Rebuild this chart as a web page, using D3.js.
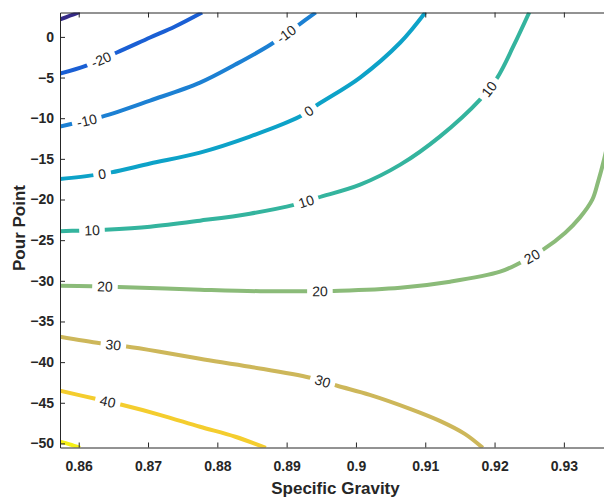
<!DOCTYPE html>
<html>
<head>
<meta charset="utf-8">
<script src="https://cdn.jsdelivr.net/npm/d3@7"></script>
<style>
  html, body { margin: 0; padding: 0; background: #fff; }
  svg { display: block; }
</style>
</head>
<body>
<svg id="chart" width="604" height="499"></svg>
<script>
// Contour levels of the fitted response over specific gravity and pour point
const levels = [-30, -20, -10, 0, 10, 20, 30, 40, 50];

// Each contour is a list of [specific gravity, pour point] points
const contourM30 = [[0.8573, 2.14], [0.8587, 2.60], [0.8601, 3.05]];
const contourM20 = [[0.8573, -4.51], [0.8611, -3.52], [0.8655, -1.92], [0.8703, -0.08],
                    [0.8739, 1.28], [0.8778, 3.00]];
const contourM10 = [[0.8573, -11.03], [0.8589, -10.72], [0.8634, -9.80], [0.8703, -7.83],
                    [0.8775, -5.62], [0.8826, -3.40], [0.8877, -0.94], [0.8918, 1.52],
                    [0.8942, 3.00]];
const contour0   = [[0.8573, -17.49], [0.8622, -17.00], [0.8647, -16.66], [0.8703, -15.58],
                    [0.8775, -14.23], [0.8847, -12.26], [0.8919, -9.80], [0.8945, -8.32],
                    [0.9006, -5.00], [0.9064, -0.69], [0.9100, 3.00]];
const contour10  = [[0.8573, -23.89], [0.8602, -23.83], [0.8638, -23.71], [0.8703, -23.34],
                    [0.8775, -22.60], [0.8847, -21.74], [0.8912, -20.63], [0.8945, -19.77],
                    [0.9006, -18.17], [0.9064, -15.71], [0.9121, -12.26], [0.9179, -7.71],
                    [0.9204, -5.00], [0.9227, -1.18], [0.9250, 3.00]];
const contour20  = [[0.8573, -30.60], [0.8619, -30.66], [0.8657, -30.76], [0.8775, -31.09],
                    [0.8862, -31.28], [0.8919, -31.28], [0.8977, -31.22], [0.9064, -30.85],
                    [0.9136, -30.11], [0.9208, -28.88], [0.9237, -27.77], [0.9270, -26.17],
                    [0.9302, -24.08], [0.9323, -22.23], [0.9341, -20.02], [0.9349, -17.92],
                    [0.9358, -15.09], [0.9366, -12.00]];
const contour30  = [[0.8573, -36.88], [0.8631, -37.68], [0.8667, -38.05], [0.8717, -38.72],
                    [0.8775, -39.58], [0.8847, -40.57], [0.8934, -41.92], [0.8973, -42.91],
                    [0.9020, -44.02], [0.9078, -45.74], [0.9121, -47.22], [0.9157, -48.82],
                    [0.9183, -50.54]];
const contour40  = [[0.8573, -43.52], [0.8624, -44.51], [0.8662, -45.25], [0.8717, -46.48],
                    [0.8775, -47.95], [0.8826, -49.18], [0.8870, -50.54]];
const contour50  = [[0.8573, -49.80], [0.8587, -50.11], [0.8602, -50.54]];

// Specific gravity at which each contour carries its inline label
const labelsM30 = [];
const labelsM20 = [0.8632];
const labelsM10 = [0.8612, 0.8899];
const labels0   = [0.8634, 0.8932];
const labels10  = [0.8619, 0.8928, 0.9192];
const labels20  = [0.8638, 0.8948, 0.9254];
const labels30  = [0.8650, 0.8952];
const labels40  = [0.8642];
const labels50  = [];

// Axis ticks
const xTicks = [0.86, 0.87, 0.88, 0.89, 0.90, 0.91, 0.92, 0.93];
const yTicks = [0, -5, -10, -15, -20, -25, -30, -35, -40, -45, -50];
const xTitle = "Specific Gravity";
const yTitle = "Pour Point";

// parula-like colour steps, one per level
const levelColors = ["#352a87", "#1a5fd4", "#1c80d3", "#0da2c8", "#34b49e",
                     "#8bbb79", "#cdb75a", "#f4cd2e", "#f5f015"];

const contours = [contourM30, contourM20, contourM10, contour0, contour10,
                  contour20, contour30, contour40, contour50];
const labelSets = [labelsM30, labelsM20, labelsM10, labels0, labels10,
                   labels20, labels30, labels40, labels50];

const W = 604, H = 499;
const plot = { left: 60, right: 611, top: 12.5, bottom: 447.5 };
const FONT = "'Liberation Sans', Arial, Helvetica, sans-serif";
const AXIS_COLOR = "#262626";

const svg = d3.select("#chart");
const defs = svg.append("defs");

const x = d3.scaleLinear().domain([0.8573, 0.9368]).range([plot.left, plot.right]);
const y = d3.scaleLinear().domain([-50.5, 3]).range([plot.bottom, plot.top]);

defs.append("clipPath").attr("id", "plot-clip")
  .append("rect")
  .attr("x", plot.left).attr("y", plot.top)
  .attr("width", plot.right - plot.left).attr("height", plot.bottom - plot.top);

const line = d3.line()
  .x(d => x(d[0]))
  .y(d => y(d[1]))
  .curve(d3.curveCatmullRom.alpha(0.5));

const contourLayer = svg.append("g").attr("clip-path", "url(#plot-clip)");
const labelLayer = svg.append("g");

// find the point on a drawn path at a given specific gravity, with its tangent angle
function labelAnchor(node, sg) {
  const total = node.getTotalLength();
  const tx = x(sg);
  let best = 0, bestD = Infinity;
  for (let l = 0; l <= total; l += 0.5) {
    const p = node.getPointAtLength(l);
    const d = Math.abs(p.x - tx);
    if (d < bestD) { bestD = d; best = l; }
  }
  const p = node.getPointAtLength(best);
  const a = node.getPointAtLength(Math.max(0, best - 6));
  const b = node.getPointAtLength(Math.min(total, best + 6));
  let ang = Math.atan2(b.y - a.y, b.x - a.x) * 180 / Math.PI;
  if (ang > 90) ang -= 180;
  if (ang < -90) ang += 180;
  return { x: p.x, y: p.y, angle: ang };
}

contours.forEach((pts, i) => {
  const level = levels[i];
  const maskId = "gap-" + i;
  const mask = defs.append("mask").attr("id", maskId)
    .attr("maskUnits", "userSpaceOnUse")
    .attr("x", 0).attr("y", 0).attr("width", W).attr("height", H);
  mask.append("rect").attr("x", 0).attr("y", 0).attr("width", W).attr("height", H)
    .attr("fill", "#fff");

  const path = contourLayer.append("path")
    .datum(pts)
    .attr("d", line)
    .attr("fill", "none")
    .attr("stroke", levelColors[i])
    .attr("stroke-width", 4)
    .attr("stroke-linejoin", "round")
    .attr("mask", `url(#${maskId})`);

  labelSets[i].forEach(sg => {
    const anc = labelAnchor(path.node(), sg);
    const t = labelLayer.append("text")
      .attr("transform", `translate(${anc.x},${anc.y}) rotate(${anc.angle})`)
      .attr("text-anchor", "middle")
      .attr("dy", "0.36em")
      .attr("font-family", FONT)
      .attr("font-size", 14)
      .attr("fill", "#262626")
      .text(String(level));
    const w = t.node().getComputedTextLength();
    mask.append("rect")
      .attr("x", -w / 2 - 5).attr("y", -8)
      .attr("width", w + 10).attr("height", 16)
      .attr("transform", `translate(${anc.x},${anc.y}) rotate(${anc.angle})`)
      .attr("fill", "#000");
  });
});

// axes: box with inward ticks
function styleAxis(g) {
  g.select(".domain").attr("stroke", AXIS_COLOR).attr("stroke-width", 1);
  g.selectAll(".tick line").attr("stroke", AXIS_COLOR).attr("stroke-width", 1);
  g.selectAll(".tick text")
    .attr("font-family", FONT)
    .attr("font-size", 14)
    .attr("font-weight", "bold")
    .attr("fill", AXIS_COLOR);
}

svg.append("g")
  .attr("transform", `translate(0,${plot.bottom})`)
  .call(d3.axisBottom(x).tickValues(xTicks).tickSizeInner(-5).tickSizeOuter(0)
    .tickPadding(14).tickFormat(d3.format("~g")))
  .call(styleAxis);

svg.append("g")
  .attr("transform", `translate(0,${plot.top})`)
  .call(d3.axisTop(x).tickValues(xTicks).tickSizeInner(-5).tickSizeOuter(0).tickFormat(""))
  .call(styleAxis);

svg.append("g")
  .attr("transform", `translate(${plot.left},0)`)
  .call(d3.axisLeft(y).tickValues(yTicks).tickSizeInner(-5).tickSizeOuter(0)
    .tickPadding(6).tickFormat(d3.format("~g")))
  .call(styleAxis);

svg.append("g")
  .attr("transform", `translate(${plot.right},0)`)
  .call(d3.axisRight(y).tickValues(yTicks).tickSizeInner(-5).tickSizeOuter(0).tickFormat(""))
  .call(styleAxis);

// axis titles
svg.append("text")
  .attr("x", (plot.left + plot.right) / 2)
  .attr("y", 494)
  .attr("text-anchor", "middle")
  .attr("font-family", FONT)
  .attr("font-size", 17)
  .attr("font-weight", "bold")
  .attr("fill", AXIS_COLOR)
  .text(xTitle);

svg.append("text")
  .attr("transform", `translate(25,${(plot.top + plot.bottom) / 2 - 2}) rotate(-90)`)
  .attr("text-anchor", "middle")
  .attr("font-family", FONT)
  .attr("font-size", 17)
  .attr("font-weight", "bold")
  .attr("fill", AXIS_COLOR)
  .text(yTitle);
</script>
</body>
</html>
